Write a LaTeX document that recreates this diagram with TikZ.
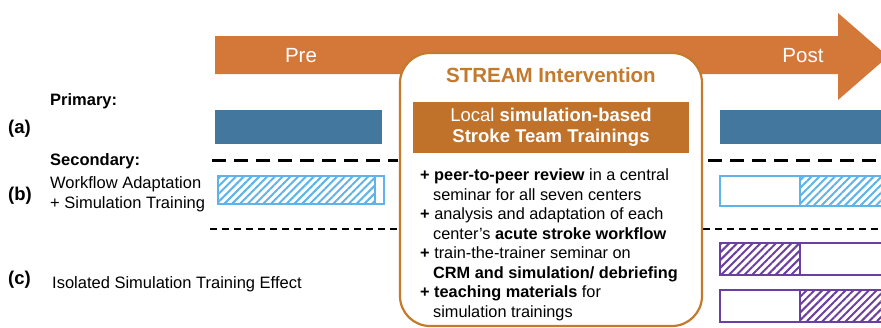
\documentclass[tikz,border=0pt]{standalone}
\usepackage{fontspec}
\setmainfont{Liberation Sans}
\usetikzlibrary{patterns.meta}
\definecolor{mOrange}{HTML}{D4783A}
\definecolor{mBrown}{HTML}{C0722A}
\definecolor{mFrame}{HTML}{C47A2C}
\definecolor{mBlue}{HTML}{44779E}
\definecolor{mLightBlue}{HTML}{5EB3E8}
\definecolor{mPurple}{HTML}{6B3FA0}
\newcommand{\fs}[1]{\fontsize{#1}{19.5}\selectfont}

\begin{document}
\begin{tikzpicture}[x=1pt, y=-1pt,
    txt/.style={inner sep=0pt, anchor=base west},
    hatch/.style={pattern={Lines[angle=45,distance=5.5pt,line width=2pt]}, pattern color=#1},
    bar/.style={draw=#1, line width=2pt},
    bigdash/.style={line width=3pt, dash pattern=on 14pt off 8pt},
    smalldash/.style={line width=1.4pt, dash pattern=on 7pt off 5pt}]
  \useasboundingbox (0,0) rectangle (881,327);
  \clip (0,0) rectangle (881,327);

  % time arrow
  \fill[mOrange] (215,36) -- (838,36) -- (838,13) -- (888,56.5) -- (838,100)
    -- (838,74) -- (215,74) -- cycle;
  \node[text=white] (pre) at (301,56) {\fs{20.5}Pre};
  \node[text=white] (post) at (803,56) {\fs{20.5}Post};

  % (a) primary
  \fill[mBlue] (215,110) rectangle (382,144);
  \fill[mBlue] (720,110) rectangle (890,144);
  \draw[bigdash] (212,160) -- (398,160);
  \draw[bigdash] (708,160) -- (890,160);

  % (b) secondary
  \fill[hatch=mLightBlue] (218,176) rectangle (375,204);
  \draw[bar=mLightBlue] (218,176) rectangle (384,204) (375,176) -- (375,204);
  \fill[hatch=mLightBlue] (800,176) rectangle (890,206);
  \draw[bar=mLightBlue] (720,176) rectangle (890,206) (800,176) -- (800,206);
  \draw[smalldash] (210,229) -- (398,229);
  \draw[smalldash] (703,229) -- (890,229);

  % (c) isolated effect
  \fill[hatch=mPurple] (720,243) rectangle (800,275);
  \draw[bar=mPurple] (720,243) rectangle (890,275) (800,243) -- (800,275);
  \fill[hatch=mPurple] (800,290) rectangle (890,322);
  \draw[bar=mPurple] (720,290) rectangle (890,322) (800,290) -- (800,322);

  % intervention box
  \draw[mFrame, line width=2.2pt, fill=white, rounded corners=30pt] (400,53) rectangle (702,326);
  \node[text=mFrame] (title) at (551,75) {\fs{20.5}\bfseries STREAM Intervention};
  \node[fill=mBrown, text=white, minimum width=276pt, minimum height=51pt, align=center,
    font=\fontsize{18.5}{21}\selectfont] (train) at (551,127.5)
    {Local \textbf{simulation-based}\\ \textbf{Stroke Team Trainings}};
  \node[txt] (l1) at (420,180.5) {\fs{16.3}\textbf{+ peer-to-peer review} in a central};
  \node[txt] (l2) at (433,200) {\fs{16.3}seminar for all seven centers};
  \node[txt] (l3) at (420,219.5) {\fs{16.3}\textbf{+} analysis and adaptation of each};
  \node[txt] (l4) at (433,239) {\fs{16.3}center's \textbf{acute stroke workflow}};
  \node[txt] (l5) at (420,258.5) {\fs{16.3}\textbf{+} train-the-trainer seminar on};
  \node[txt] (l6) at (433,278) {\fs{16.3}\textbf{CRM and simulation/ debriefing}};
  \node[txt] (l7) at (420,297.5) {\fs{16.3}\textbf{+ teaching materials} for};
  \node[txt] (l8) at (433,317) {\fs{16.3}simulation trainings};

  % row labels
  \node[txt] (a) at (8,133) {\fs{18.5}\bfseries (a)};
  \node[txt] (primary) at (50,105) {\fs{16.5}\bfseries Primary:};
  \node[txt] (secondary) at (50,165) {\fs{16.5}\bfseries Secondary:};
  \node[txt] (b) at (8,200) {\fs{18.5}\bfseries (b)};
  \node[txt] (wf) at (50,188) {\fs{16.5}Workflow Adaptation};
  \node[txt] (sim) at (50,208) {\fs{16.5}+ Simulation Training};
  \node[txt] (c) at (8,284) {\fs{18.5}\bfseries (c)};
  \node[txt] (iso) at (52,288) {\fs{16.5}Isolated Simulation Training Effect};
\end{tikzpicture}
\end{document}
